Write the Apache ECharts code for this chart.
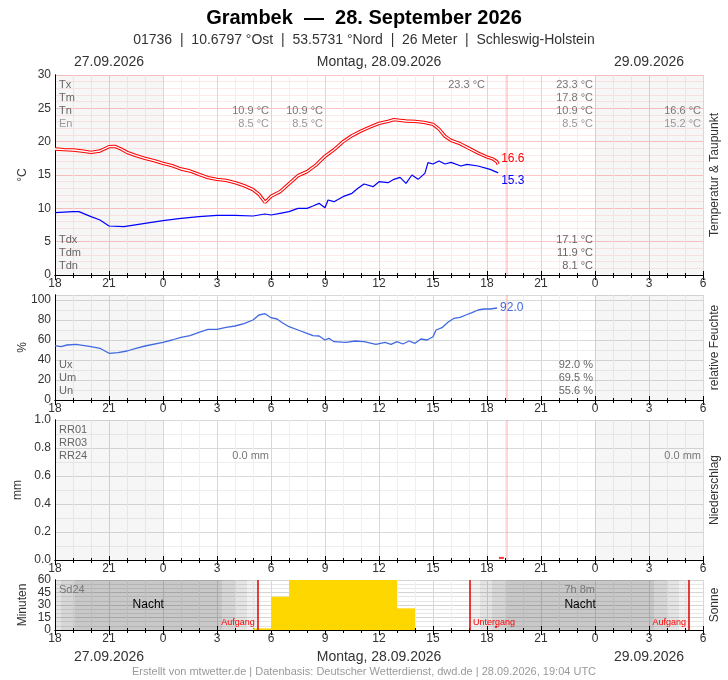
<!DOCTYPE html>
<html><head><meta charset="utf-8">
<script src="https://cdn.jsdelivr.net/npm/echarts@6/dist/echarts.min.js"></script>
<style>html,body{margin:0;padding:0;background:#fff;overflow:hidden;}#c{width:728px;height:680px;}</style>
</head><body><div id="c"></div>
<script>
const FONT = '"Liberation Sans", Arial, Helvetica, sans-serif';

// ---- data (x = hours since 27.09.2026 18:00) ----
const hourLabels = ['18','21','0','3','6','9','12','15','18','21','0','3','6'];
const tempHours  = [0,0.5,1,1.5,2,2.5,3,3.33,3.67,4,4.5,5,5.5,6,6.5,7,7.5,8,8.5,9,9.5,10,10.5,11,11.33,11.67,12,12.5,13,13.5,14,14.5,15,15.5,16,16.5,17,17.5,18,18.5,18.83,19.17,19.5,20,20.5,21,21.33,21.67,22,22.5,23,23.5,24,24.33,24.55,24.62];
const tempValues = [18.9,18.8,18.75,18.6,18.4,18.6,19.25,19.3,18.9,18.4,17.9,17.5,17.15,16.75,16.4,15.9,15.6,15.1,14.6,14.35,14.2,13.85,13.4,12.8,12.1,10.9,11.8,12.5,13.7,14.9,15.5,16.5,17.8,18.8,20.0,20.9,21.6,22.2,22.75,23.05,23.3,23.2,23.1,23.05,22.9,22.6,21.9,20.8,20.2,19.7,19.0,18.3,17.7,17.4,17.0,16.6];
const dewHours   = [0,1,1.33,2,2.5,3,3.83,5,6,7,8,9,10,11,11.67,12,12.5,13,13.5,14,14.33,14.67,15,15.17,15.5,16,16.5,16.83,17.17,17.67,18,18.5,18.83,19.17,19.5,19.83,20.17,20.55,20.72,21,21.33,21.67,22,22.55,22.89,23.5,24.17,24.56,24.62];
const dewValues  = [9.35,9.5,9.5,8.75,8.25,7.35,7.25,7.75,8.15,8.5,8.75,8.95,8.95,8.85,9.15,9.0,9.25,9.5,10.0,10.0,10.35,10.75,10.1,11.25,11.0,11.75,12.25,13.0,13.65,13.25,14.0,13.85,14.35,14.65,13.75,15.0,14.35,15.25,16.85,16.65,17.1,16.65,16.9,16.35,16.6,16.35,15.85,15.4,15.3];
const humHours   = [0,0.33,0.67,1.17,2,2.5,3,3.5,4,4.5,5,6,6.5,7,7.5,8,8.5,9,9.5,10,10.5,11,11.33,11.67,12,12.33,12.67,13,13.5,14,14.33,14.67,15,15.22,15.5,16.17,16.67,17.17,17.83,18.33,18.67,19,19.33,19.67,20,20.33,20.67,21,21.17,21.5,21.83,22.17,22.5,22.83,23.17,23.5,23.83,24.17,24.56];
const humValues  = [54.3,53.3,55,55.7,53.3,51.7,46.7,47.3,49,51.7,54,57.7,60,62.7,64.3,67.7,70.7,70.7,72.7,74,76.3,80,85,86.3,82.3,81,76.7,73.3,70,66.7,64.3,64,60,61.7,58.3,57.7,59,58.3,55.7,57.7,55.7,58.3,56,59,56.7,61,60,63.3,70,72.3,77.7,81.7,82.7,85,87.3,90,91,91,92.0];
const rainHours  = [0,1,2,3,4,5,6,7,8,9,10,11,12,13,14,15,16,17,18,19,20,21,22,23,24];
const rainValues = [0,0,0,0,0,0,0,0,0,0,0,0,0,0,0,0,0,0,0,0,0,0,0,0,0];
const sunHourOfDay = [5,6,7,8,9,10,11,12,13];   // 28.09.2026, hour start
const sunMinutes   = [2,40,60,60,60,60,60,60,26];
const nowHour = 25.07;
const sunriseHours = [11.27, 35.22];
const sunsetHours  = [23.05];
const twilightBands = [[0,0.33,'l'],[0.33,1.08,'m'],[1.08,9.28,'d'],[9.28,10.0,'m'],[10.0,10.67,'l'],[10.67,11.27,'v'],
                       [23.05,23.61,'v'],[23.61,24.28,'l'],[24.28,25.06,'m'],[25.06,33.28,'d'],[33.28,34.0,'m'],[34.0,34.67,'l'],[34.67,35.22,'v']];
const otherDayBands = [[0,6],[30,36]];
const tempStatNames = ['Tx','Tm','Tn','En'];
const tempStatsA = [null,null,'10.9 °C','8.5 °C'];
const tempStatsB = [null,null,'10.9 °C','8.5 °C'];
const tempStatsC = ['23.3 °C',null,null,null];
const tempStatsD = ['23.3 °C','17.8 °C','10.9 °C','8.5 °C'];
const tempStatsE = [null,null,'16.6 °C','15.2 °C'];
const dewStatNames = ['Tdx','Tdm','Tdn'];
const dewStats = ['17.1 °C','11.9 °C','8.1 °C'];
const humStatNames = ['Ux','Um','Un'];
const humStats = ['92.0 %','69.5 %','55.6 %'];
const rainStatNames = ['RR01','RR03','RR24'];
const rainStatsA = [null,null,'0.0 mm'];
const rainStatsB = [null,null,'0.0 mm'];
const sunTotal = '7h 8m';
const dayLabels = ['27.09.2026','Montag, 28.09.2026','29.09.2026'];

// ---- layout ----
const L = 55, R = 25;
const G = [{top:75,height:200},{top:295,height:105},{top:420,height:140},{top:580,height:50}];
const xFmt = v => hourLabels[Math.round(v/3)];
const zip = (a,b) => a.map((x,i)=>[x,b[i]]);

const xAxis = [], yAxis = [];
const yDefs = [
  {min:0,max:30,interval:5,minor:5,name:'°C',rname:'Temperatur & Taupunkt',split:'#ffc4c4',minorC:'#ffe9e9',fmt:v=>String(v),gap:26},
  {min:0,max:105,interval:20,minor:2,name:'%',rname:'relative Feuchte',split:'#d9d9d9',minorC:'#eeeeee',fmt:v=>v>100?'':String(v),gap:26},
  {min:0,max:1,interval:0.2,minor:2,name:'mm',rname:'Niederschlag',split:'#d9d9d9',minorC:'#eeeeee',fmt:v=>v.toFixed(1),gap:31},
  {min:0,max:60,interval:15,minor:3,name:'Minuten',rname:'Sonne',split:'#d4d4d4',minorC:'#e6e6e6',fmt:v=>String(v),gap:26}
];
G.forEach((g,i)=>{
  xAxis.push({type:'value',gridIndex:i,min:0,max:36,interval:3,position:'bottom',
    axisLine:{show:true,lineStyle:{color:'#000',width:1}},
    axisTick:{show:true,length:5,lineStyle:{color:'#000'}},
    minorTick:{show:true,splitNumber:3,length:3,lineStyle:{color:'#000'}},
    axisLabel:{color:'#333',fontSize:12,fontFamily:FONT,margin:3,formatter:xFmt},
    splitLine:{show:true,lineStyle:{color:'#d8d8d8'}},
    minorSplitLine:{show:true,lineStyle:{color:'#efefef'}}});
  xAxis.push({type:'value',gridIndex:i,min:0,max:36,interval:3,position:'top',
    axisLine:{show:true,lineStyle:{color:'#000',width:1}},
    axisTick:{show:true,length:4,lineStyle:{color:'#000'}},
    minorTick:{show:true,splitNumber:3,length:2,lineStyle:{color:'#000'}},
    axisLabel:{show:false},splitLine:{show:false}});
  const d = yDefs[i];
  yAxis.push({type:'value',gridIndex:i,min:d.min,max:d.max,interval:d.interval,position:'left',
    axisLine:{show:true,lineStyle:{color:'#000'}},axisTick:{show:false},
    axisLabel:{color:'#333',fontSize:12,fontFamily:FONT,margin:4,formatter:d.fmt},
    splitLine:{show:true,lineStyle:{color:d.split}},
    minorSplitLine:{show:true,lineStyle:{color:d.minorC}},minorTick:{show:false,splitNumber:d.minor},
    name:d.name,nameLocation:'middle',nameGap:d.gap,nameRotate:90,nameMoveOverlap:false,
    nameTextStyle:{color:'#333',fontSize:12,fontFamily:FONT}});
  yAxis.push({type:'value',gridIndex:i,min:d.min,max:d.max,position:'right',
    axisLine:{show:true,lineStyle:{color:'#000'}},axisTick:{show:false},axisLabel:{show:false},splitLine:{show:false},
    name:d.rname,nameLocation:'middle',nameGap:6,nameRotate:90,nameMoveOverlap:false,
    nameTextStyle:{color:'#333',fontSize:12,fontFamily:FONT}});
});

const dayArea = {silent:true,itemStyle:{color:'rgba(0,0,0,0.035)'},
  data: otherDayBands.map(b=>[{xAxis:b[0]},{xAxis:b[1]}])};
const nowLine = {silent:true,symbol:'none',label:{show:false},
  lineStyle:{color:'rgba(255,0,0,0.16)',width:2,type:'solid'},data:[{xAxis:nowHour}]};
const bandAlpha = {d:0.215,m:0.16,l:0.105,v:0.055};

const barRender = color => (params, api) => {
  const x = api.value(0), v = api.value(1);
  const p0 = api.coord([x, v]), p1 = api.coord([x+1, 0]);
  return {type:'rect',shape:{x:p0[0],y:p0[1],width:p1[0]-p0[0],height:p1[1]-p0[1]},style:{fill:color}};
};

const series = [
  {type:'line',name:'bgT',xAxisIndex:0,yAxisIndex:0,data:[],markArea:dayArea,markLine:nowLine,z:1},
  {type:'line',name:'T',xAxisIndex:0,yAxisIndex:0,data:zip(tempHours,tempValues),showSymbol:false,
    lineStyle:{color:'#ff0000',width:3.4},z:3,
    endLabel:{show:true,formatter:p=>p.value[1].toFixed(1),color:'#ff0000',fontSize:12,fontFamily:FONT,distance:3,offset:[0,-6]}},
  {type:'line',name:'T2',xAxisIndex:0,yAxisIndex:0,data:zip(tempHours,tempValues),showSymbol:false,
    lineStyle:{color:'#ffffff',width:1.3},z:4},
  {type:'line',name:'Td',xAxisIndex:0,yAxisIndex:0,data:zip(dewHours,dewValues),showSymbol:false,
    lineStyle:{color:'#0000ff',width:1.2},z:3,
    endLabel:{show:true,formatter:p=>p.value[1].toFixed(1),color:'#0000ff',fontSize:12,fontFamily:FONT,distance:3,offset:[0,8]}},
  {type:'line',name:'bgU',xAxisIndex:2,yAxisIndex:2,data:[],markArea:dayArea,markLine:nowLine,z:1},
  {type:'line',name:'U',xAxisIndex:2,yAxisIndex:2,data:zip(humHours,humValues),showSymbol:false,
    lineStyle:{color:'#4169e1',width:1.3},z:3,
    endLabel:{show:true,formatter:p=>p.value[1].toFixed(1),color:'#4169e1',fontSize:12,fontFamily:FONT,distance:3,offset:[0,0]}},
  {type:'line',name:'bgR',xAxisIndex:4,yAxisIndex:4,data:[],markArea:dayArea,markLine:nowLine,z:1},
  {type:'custom',name:'RR',xAxisIndex:4,yAxisIndex:4,data:zip(rainHours,rainValues),renderItem:barRender('#3c6fd8'),z:3},
  {type:'scatter',name:'RRnow',xAxisIndex:4,yAxisIndex:4,data:[[24.8,0.015]],symbol:'rect',symbolSize:[5,2],
    itemStyle:{color:'#ff0000'},z:4,silent:true},
  {type:'line',name:'bgS',xAxisIndex:6,yAxisIndex:6,data:[],z:1,
    markArea:{silent:true,data:twilightBands.map(b=>[{xAxis:b[0],itemStyle:{color:'rgba(0,0,0,'+bandAlpha[b[2]]+')'}},{xAxis:b[1]}])},
    markLine:{silent:true,symbol:'none',label:{show:false},lineStyle:{color:'#e00000',width:1.5,type:'solid'},
      data:sunriseHours.concat(sunsetHours).map(h=>({xAxis:h}))}},
  {type:'custom',name:'Sd',xAxisIndex:6,yAxisIndex:6,data:zip(sunHourOfDay.map(h=>h+6),sunMinutes),renderItem:barRender('#ffd700'),z:3},
  {type:'scatter',name:'Sdnow',xAxisIndex:6,yAxisIndex:6,data:[[24.5,3.5]],symbol:'rect',symbolSize:[2,2],
    itemStyle:{color:'#ff0000'},z:4,silent:true}
];

const chart = echarts.init(document.getElementById('c'), null, {renderer:'canvas', width:728, height:680});
chart.setOption({
  animation:false,
  backgroundColor:'#fff',
  grid: G.map(g=>({left:L,right:R,top:g.top,height:g.height,containLabel:false,outerBoundsMode:'none'})),
  xAxis, yAxis, series
});

// ---- texts ----
const T = (x,y,text,size,color,align,weight) => ({type:'text',x,y,silent:true,z:100,
  style:{text,fill:color,font:(weight||'normal')+' '+size+'px '+FONT,textAlign:align||'left',align:align||'left',
    textVerticalAlign:'middle',verticalAlign:'middle'}});
const px = (h,gi) => chart.convertToPixel({gridIndex:gi||0},[h,0])[0];
const g = [];
g.push(T(364,18,'Grambek  —  28. September 2026',20,'#000','center','bold'));
g.push(T(364,40,'01736  |  10.6797 °Ost  |  53.5731 °Nord  |  26 Meter  |  Schleswig-Holstein',14,'#333','center'));
[[3,0],[18,1],[33,2]].forEach(([h,i])=>{
  g.push(T(px(h),62,dayLabels[i],14,'#333','center'));
  g.push(T(px(h),657,dayLabels[i],14,'#333','center'));
});
g.push(T(364,672,'Erstellt von mtwetter.de | Datenbasis: Deutscher Wetterdienst, dwd.de | 28.09.2026, 19:04 UTC',11,'#999','center'));
tempStatNames.forEach((n,r)=>{
  const y = 85 + 13*r, c = r===3 ? '#999' : '#666', cv = r===3 ? '#999' : '#777';
  g.push(T(59,y,n,11,c));
  [[tempStatsA,12],[tempStatsB,15],[tempStatsC,24],[tempStatsD,30],[tempStatsE,36]].forEach(([arr,h])=>{
    if (arr[r]) g.push(T(px(h)-2,y,arr[r],11,cv,'right'));
  });
});
dewStatNames.forEach((n,r)=>{
  const y = 240 + 13*r;
  g.push(T(59,y,n,11,'#666'));
  g.push(T(px(30)-2,y,dewStats[r],11,'#666','right'));
});
humStatNames.forEach((n,r)=>{
  const y = 365 + 13*r;
  g.push(T(59,y,n,11,'#666'));
  g.push(T(px(30,1)-2,y,humStats[r],11,'#666','right'));
});
rainStatNames.forEach((n,r)=>{
  const y = 430 + 13*r;
  g.push(T(59,y,n,11,'#666'));
  [[rainStatsA,12],[rainStatsB,36]].forEach(([arr,h])=>{ if (arr[r]) g.push(T(px(h,2)-2,y,arr[r],11,'#777','right')); });
});
g.push(T(59,590,'Sd24',11,'#777'));
g.push(T(px(29.15,3),590,sunTotal,11,'#777','center'));
g.push(T(px(5.18,3),605,'Nacht',12,'#000','center'));
g.push(T(px(29.17,3),605,'Nacht',12,'#000','center'));
sunriseHours.forEach(h=>g.push(T(px(h,3)-3,623,'Aufgang',9,'#ff0000','right')));
sunsetHours.forEach(h=>g.push(T(px(h,3)+3,623,'Untergang',9,'#ff0000','left')));
chart.setOption({graphic:{elements:g}});
</script></body></html>
